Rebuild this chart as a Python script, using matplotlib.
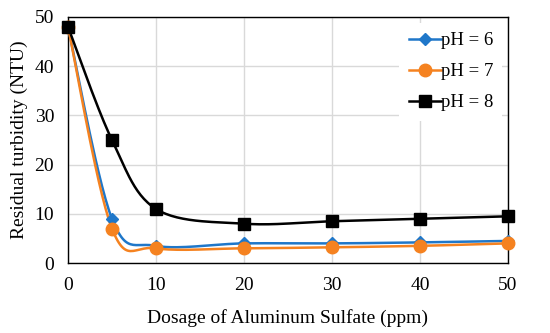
import numpy as np
import matplotlib
matplotlib.use("Agg")
import matplotlib.pyplot as plt

plt.rcParams['font.family'] = ['Liberation Serif', 'DejaVu Serif']

dosage = [0, 5, 10, 20, 30, 40, 50]
ph6 = [48, 9, 3.5, 4, 4, 4.2, 4.5]
ph7 = [48, 7, 3, 3, 3.2, 3.5, 4]
ph8 = [48, 25, 11, 8, 8.5, 9, 9.5]
labels = ['pH = 6', 'pH = 7', 'pH = 8']


def smooth(x, y, sx=440 / 50, sy=246 / 50, n=30):
    # Excel-style smoothed line: bezier through points, tension 1/6
    p = np.column_stack([np.asarray(x) * sx, np.asarray(y) * sy])
    p = np.vstack([p[0], p, p[-1]])
    out = []
    for i in range(1, len(p) - 2):
        p0, p1, p2, p3 = p[i - 1], p[i], p[i + 1], p[i + 2]
        c1 = p1 + (p2 - p0) / 6
        c2 = p2 - (p3 - p1) / 6
        t = np.linspace(0, 1, n)[:, None]
        seg = ((1 - t)**3 * p1 + 3 * (1 - t)**2 * t * c1
               + 3 * (1 - t) * t**2 * c2 + t**3 * p2)
        out.append(seg)
    out = np.vstack(out)
    return out[:, 0] / sx, out[:, 1] / sy


fig = plt.figure(figsize=(5.5, 3.33), dpi=100)
ax = fig.add_axes([0.1236, 0.21, 0.80, 0.739])

styles = [('#1f77c9', 'D', 6), ('#f58220', 'o', 9), ('#000000', 's', 8)]
for ys, lab, (c, m, ms) in zip([ph6, ph7, ph8], labels, styles):
    xs, yy = smooth(dosage, ys)
    ax.plot(xs, yy, color=c, lw=1.8, zorder=3, clip_on=False)
    ax.plot(dosage, ys, ls='none', marker=m, color=c, ms=ms, zorder=4,
            clip_on=False)
    ax.plot([], [], color=c, lw=1.8, marker=m, ms=ms, label=lab)

ax.set_xlim(0, 50)
ax.set_ylim(0, 50)
ax.set_xticks(range(0, 51, 10))
ax.set_yticks(range(0, 51, 10))
ax.grid(color='#d9d9d9', lw=1)
ax.set_axisbelow(True)
for s in ax.spines.values():
    s.set_color('black')
    s.set_linewidth(1)
ax.tick_params(length=0, labelsize=14, pad=10)
ax.set_xlabel('Dosage of Aluminum Sulfate (ppm)', fontsize=14, labelpad=11)
ax.set_ylabel('Residual turbidity (NTU)', fontsize=14, labelpad=5)
leg = ax.legend(loc='upper right', fontsize=13.5, frameon=True,
                edgecolor='none', fancybox=False, handlelength=1.7,
                handletextpad=0.0, borderaxespad=0.3, labelspacing=0.75,
                borderpad=0.5)
leg.get_frame().set_alpha(1)

fig.savefig('out.png', dpi=100)
